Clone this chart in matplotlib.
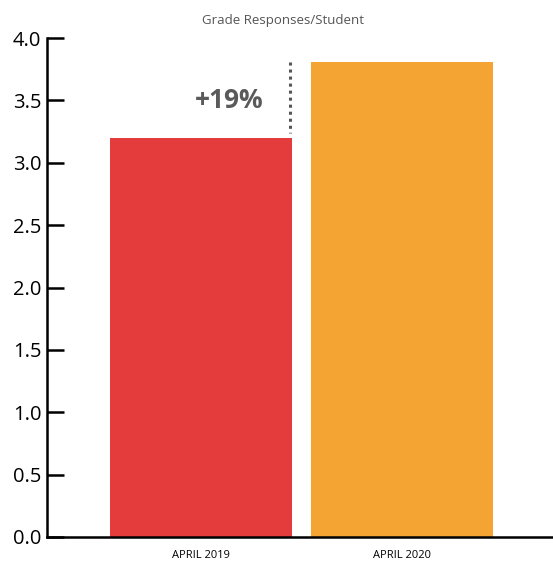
import matplotlib.pyplot as plt

# data
categories = ['APRIL 2019', 'APRIL 2020']
values = [3.2, 3.81]
colors = ['#E43B3D', '#F3A433']
yticks = [0.0, 0.5, 1.0, 1.5, 2.0, 2.5, 3.0, 3.5, 4.0]

plt.rcParams['font.family'] = ['Open Sans', 'DejaVu Sans']

fig = plt.figure(figsize=(5.53, 5.61), dpi=100)
ax = fig.add_axes([47 / 553, 24 / 561, 1 - 47 / 553, (537 - 38) / 561])

x = list(range(len(categories)))
ax.bar(x, values, width=0.905, color=colors, zorder=1)

ax.set_xlim(-0.766, 1.751)
ax.set_ylim(0, 4.0)
ax.set_yticks(yticks)
ax.set_yticklabels([f'{t:.1f}' for t in yticks], fontsize=14.5)
ax.set_xticks(x)
ax.set_xticklabels(categories, fontsize=8)

for s in ['top', 'right']:
    ax.spines[s].set_visible(False)
ax.spines['left'].set_linewidth(1.8)
ax.spines['bottom'].set_linewidth(1.8)
ax.tick_params(axis='y', direction='in', length=12, width=1.8, pad=4)
ax.tick_params(axis='x', length=0, pad=9)

# change annotation
ax.plot([0.443, 0.443], [values[1], values[0] + 0.04], color='#555555',
        linestyle=(0, (1, 1.3)), linewidth=2.2)
ax.text(0.14, 3.5, '+19%', fontsize=19, fontweight='bold', color='#5a5a5a',
        ha='center', va='center')

fig.text(0.512, 0.963, 'Grade Responses/Student', fontsize=9.5, color='#555555',
         ha='center', va='center')

fig.savefig('out.png', dpi=100)
